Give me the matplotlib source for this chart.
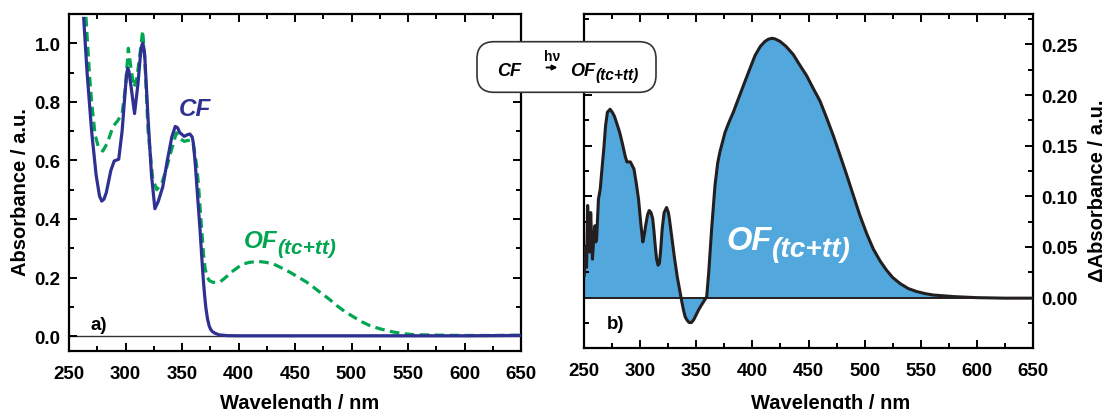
import numpy as np
import matplotlib
matplotlib.use("Agg")
import matplotlib.pyplot as plt
from matplotlib.ticker import MultipleLocator, FixedLocator, FormatStrFormatter
from matplotlib.patches import FancyBboxPatch, FancyArrowPatch
from matplotlib.text import Annotation

plt.rcParams['font.family'] = ['Liberation Sans', 'DejaVu Sans']
plt.rcParams['font.weight'] = 'bold'
plt.rcParams['axes.labelweight'] = 'bold'

# a) closed form (CF), solid blue
wl_cf = [263, 266, 270, 274, 277, 279, 281, 283, 287, 290, 294, 297, 300, 301,
         302, 303, 305, 308, 311, 313, 314, 315, 316, 317, 320, 323, 326, 329,
         333, 337, 341, 344, 346, 348, 352, 355, 357, 359, 360, 361, 362, 363,
         364.5, 366, 367, 368, 369, 370, 371, 372.5, 374, 375.5, 377, 379, 383,
         390, 400, 450, 500, 550, 600, 650]
abs_cf = [1.085, 0.90, 0.70, 0.55, 0.478, 0.461, 0.468, 0.49, 0.565, 0.598,
          0.604, 0.70, 0.85, 0.895, 0.915, 0.905, 0.85, 0.76, 0.86, 0.95, 0.985,
          1.0, 0.99, 0.96, 0.74, 0.55, 0.435, 0.46, 0.51, 0.60, 0.68, 0.716,
          0.712, 0.695, 0.682, 0.688, 0.69, 0.68, 0.66, 0.62, 0.575, 0.52, 0.44,
          0.36, 0.30, 0.24, 0.185, 0.14, 0.10, 0.06, 0.035, 0.022, 0.015, 0.01,
          0.004, 0.0015, 0.001, 0.001, 0.001, 0.001, 0.001, 0.002]

# a) open forms OF(tc+tt), dashed green
wl_of = [265, 268, 270, 273, 276, 280, 284, 289, 293, 297, 300, 302.5, 305,
         307.5, 310, 313, 315.2, 317, 320, 324, 327.6, 332, 336, 341, 345, 348,
         352, 355, 358, 360, 361.5, 363, 364.5, 366, 367.5, 369, 370.5, 372,
         374, 377, 380, 384, 387, 390, 395, 400, 404, 410, 417.5, 424, 431, 438,
         446, 453, 460, 466, 472, 480, 487, 494, 502, 509, 516, 524, 531, 538,
         546, 555, 564, 580, 600, 625, 650]
abs_of = [1.09, 0.90, 0.80, 0.69, 0.645, 0.632, 0.66, 0.716, 0.735, 0.76, 0.85,
          0.983, 0.91, 0.85, 0.88, 0.97, 1.043, 0.95, 0.70, 0.54, 0.50, 0.52,
          0.57, 0.64, 0.694, 0.675, 0.665, 0.668, 0.67, 0.655, 0.62, 0.58, 0.52,
          0.44, 0.36, 0.28, 0.23, 0.205, 0.19, 0.184, 0.183, 0.186, 0.195,
          0.205, 0.222, 0.236, 0.246, 0.252, 0.255, 0.252, 0.246, 0.233, 0.217,
          0.201, 0.185, 0.168, 0.150, 0.127, 0.104, 0.084, 0.065, 0.049, 0.036,
          0.026, 0.019, 0.013, 0.008, 0.005, 0.004, 0.003, 0.002, 0.002, 0.003]

# b) difference spectrum
wl_d = [250, 251, 252, 253, 254, 254.7, 255.7, 256.5, 257.3, 258.5, 259.5,
        260.3, 261, 262.6, 264.2, 266, 267.4, 269, 270.6, 273, 275, 276.9, 279,
        281.6, 284, 286.4, 288, 291.1, 294.3, 296.5, 298.4, 300.5, 302.2, 303.5,
        304.7, 306.5, 307.9, 309.5, 311, 312.2, 313.2, 314.5, 315.8, 317, 318,
        319.5, 321.2, 323.4, 325, 325.9, 328, 330.6, 333, 335.4, 337, 338.5,
        340, 341.7, 343.5, 345.5, 347.5, 349.6, 352, 354.4, 357, 359.2, 361,
        363.6, 366.6, 369, 371, 375.5, 379, 382.9, 387, 391.8, 397, 402.3, 407,
        411.2, 414, 417.2, 420, 424.6, 430, 436.4, 442, 448.4, 454, 460.3, 466,
        472.1, 478, 484.1, 490, 495.9, 502, 507.8, 514, 519.7, 525, 531.6, 539,
        546.5, 554, 561.3, 580, 600, 625, 650]
d_abs = [0.022, 0.05, 0.03, 0.091, 0.06, 0.045, 0.084, 0.06, 0.038, 0.06, 0.071,
         0.055, 0.058, 0.097, 0.107, 0.13, 0.147, 0.17, 0.183, 0.186, 0.183,
         0.179, 0.172, 0.163, 0.152, 0.14, 0.134, 0.134, 0.127, 0.112, 0.097,
         0.072, 0.055, 0.062, 0.071, 0.082, 0.086, 0.084, 0.078, 0.065, 0.052,
         0.038, 0.032, 0.034, 0.045, 0.068, 0.084, 0.089, 0.084, 0.078, 0.06,
         0.038, 0.02, 0.0056, -0.004, -0.0125, -0.019, -0.0223, -0.0245,
         -0.0246, -0.022, -0.0174, -0.012, -0.0075, -0.003, 0.001, 0.025, 0.068,
         0.111, 0.133, 0.144, 0.163, 0.173, 0.183, 0.195, 0.209, 0.224, 0.239,
         0.248, 0.253, 0.255, 0.256, 0.2555, 0.253, 0.248, 0.240, 0.230, 0.219,
         0.207, 0.194, 0.178, 0.160, 0.141, 0.121, 0.101, 0.081, 0.063, 0.048,
         0.036, 0.027, 0.020, 0.014, 0.009, 0.006, 0.004, 0.0026, 0.001, 0.0,
         -0.0005, -0.0005]

blue = '#2e3192'
green = '#00a650'
fill = '#52a8dd'
ink = '#231f20'

fig = plt.figure(figsize=(11.07, 4.10), dpi=100)
W, H = 1107, 410
ax1 = fig.add_axes([69 / W, (H - 351.7) / H, 452 / W, 336.7 / H])
ax2 = fig.add_axes([584.3 / W, (H - 349.3) / H, 448.4 / W, 334.3 / H])


def sub_label(parent, x, y, main, sub, size, color, transform, zorder=4):
    # main text plus a slightly smaller, lowered subscript
    t = parent.text(x, y, main, fontsize=size, style='italic', color=color,
                    ha='left', va='baseline', transform=transform, zorder=zorder)
    a = Annotation(sub, xy=(1, 0), xycoords=t, xytext=(0.3, -0.19 * size),
                   textcoords='offset points', fontsize=0.86 * size,
                   style='italic', color=color, ha='left', va='bottom',
                   annotation_clip=False, zorder=zorder)
    if parent is fig:
        fig.add_artist(a)
    else:
        parent._add_text(a)
    return t


for ax in (ax1, ax2):
    for sp in ax.spines.values():
        sp.set_linewidth(1.6)
    ax.tick_params(which='both', direction='in', top=True, right=True,
                   labelsize=13.5, width=1.4)
    ax.tick_params(which='major', length=5.5)
    ax.tick_params(which='minor', length=3.5)
    ax.tick_params(axis='x', pad=10)
    ax.set_xlim(250, 650)
    ax.xaxis.set_major_locator(MultipleLocator(50))
    ax.xaxis.set_minor_locator(MultipleLocator(25))
    ax.set_xlabel('Wavelength / nm', fontsize=14.5)

# panel a
ax1.axhline(0, color='#333333', lw=1.0, zorder=1)
ax1.plot(wl_of, abs_of, color=green, lw=2.3, ls=(0, (3, 1.7)), zorder=2)
ax1.plot(wl_cf, abs_cf, color=blue, lw=2.3, zorder=3)
ax1.set_ylim(-0.05, 1.1)
ax1.yaxis.set_major_locator(MultipleLocator(0.2))
ax1.yaxis.set_minor_locator(MultipleLocator(0.1))
ax1.yaxis.set_major_formatter(FormatStrFormatter('%.1f'))
ax1.tick_params(axis='y', pad=6)
ax1.set_ylabel('Absorbance / a.u.', fontsize=14.5, va='center')
ax1.yaxis.set_label_coords(-0.108, 0.474)
ax1.xaxis.set_label_coords(0.511, -0.127)
ax1.text(347.3, 0.754, 'CF', color=blue, fontsize=17.5, style='italic',
         ha='left', va='baseline')
sub_label(ax1, 404.3, 0.303, 'OF', '(tc+tt)', 17.5, green, ax1.transData)
ax1.text(268.6, 0.025, 'a)', fontsize=13.5, ha='left', va='baseline')

# panel b
ax2.fill_between(wl_d, d_abs, 0, color=fill, lw=0, zorder=1)
ax2.axhline(0, color=ink, lw=1.4, zorder=2)
ax2.plot(wl_d, d_abs, color=ink, lw=2.2, zorder=3)
ax2.set_ylim(-0.05, 0.28)
ax2.yaxis.set_major_locator(FixedLocator([0, 0.05, 0.10, 0.15, 0.20, 0.25]))
ax2.yaxis.set_minor_locator(FixedLocator([-0.025, 0.025, 0.075, 0.125, 0.175, 0.225, 0.275]))
ax2.yaxis.set_major_formatter(FormatStrFormatter('%.2f'))
ax2.tick_params(axis='y', labelleft=False, labelright=True, pad=6)
ax2.yaxis.set_label_position('right')
ax2.set_ylabel('\u0394Absorbance / a.u.', fontsize=14.5, rotation=90, va='center')
ax2.yaxis.set_label_coords(1.1456, 0.4735)
ax2.xaxis.set_label_coords(0.550, -0.133)
sub_label(ax2, 376.4, 0.0485, 'OF', '(tc+tt)', 23.5, 'white', ax2.transData)
ax2.text(270.5, -0.030, 'b)', fontsize=13.5, ha='left', va='baseline')

# reaction box between the panels
tr = fig.dpi_scale_trans
box = FancyBboxPatch((4.77, (H - 93.3) / 100), 1.79, 0.506,
                     boxstyle='round,pad=0,rounding_size=0.17',
                     transform=tr, facecolor='white', edgecolor='#333333',
                     lw=1.2, zorder=5)
fig.add_artist(box)
fig.text(4.97, (H - 75.7) / 100, 'CF', transform=tr, fontsize=13,
         style='italic', ha='left', va='baseline', zorder=6)
arrow = FancyArrowPatch((5.465, (H - 68.5) / 100), (5.575, (H - 68.5) / 100),
                        transform=tr, arrowstyle='-|>', mutation_scale=7,
                        shrinkA=0, shrinkB=0, lw=1.4, color='black', zorder=6)
fig.add_artist(arrow)
fig.text(5.52, (H - 61.5) / 100, 'h\u03bd', transform=tr, fontsize=10,
         ha='center', va='baseline', zorder=6)
sub_label(fig, 5.70, (H - 75.7) / 100, 'OF', '(tc+tt)', 13, 'black', tr,
          zorder=6)

fig.savefig('out.png', dpi=100)
